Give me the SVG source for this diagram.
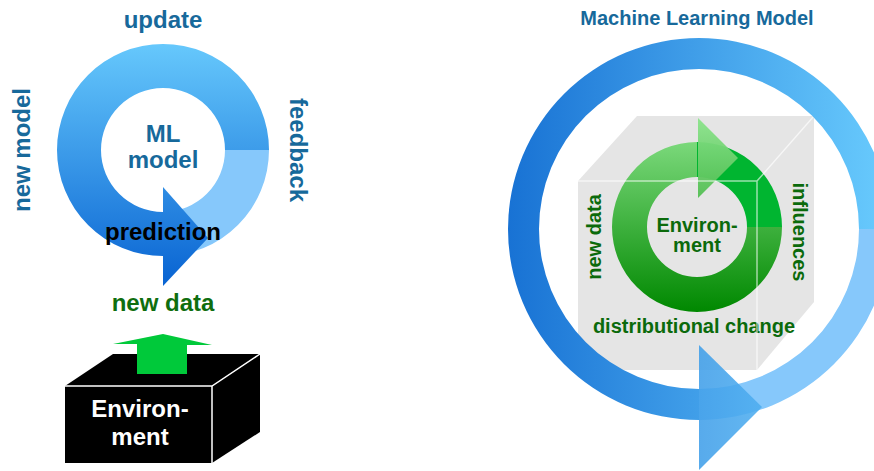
<svg xmlns="http://www.w3.org/2000/svg" width="874" height="471" viewBox="0 0 874 471">
<defs>
<linearGradient id="gLeft" gradientUnits="userSpaceOnUse" x1="0" y1="44" x2="0" y2="286">
<stop offset="0" stop-color="#66c8fc"/><stop offset="1" stop-color="#0863d2"/>
</linearGradient>
<linearGradient id="gBig" gradientUnits="userSpaceOnUse" x1="508" y1="0" x2="874" y2="0">
<stop offset="0" stop-color="#1872d4"/><stop offset="1" stop-color="#66c8fc"/>
</linearGradient>
<linearGradient id="gGreen" gradientUnits="userSpaceOnUse" x1="0" y1="118" x2="0" y2="312">
<stop offset="0" stop-color="#8ce48c"/><stop offset="1" stop-color="#008800"/>
</linearGradient>
<style>
text{font-family:"Liberation Sans",Arial,sans-serif;font-weight:bold;text-anchor:middle}
.blue{fill:#17699b}
.lg{font-size:24px}
.sm{font-size:20px}
.dg{fill:#0f6e0f}
.cg{fill:#0b6a0b}
.edge{stroke:#ffffff;stroke-width:1.5;fill:none}
</style>
</defs>

<g id="ml-cycle">
<path d="M269,150 A106,106 0 0 1 163,256 L163,212 A62,62 0 0 0 225,150 Z" fill="#86c8fb"/>
<path d="M163,256 A106,106 0 1 1 269,150 L225,150 A62,62 0 1 0 163,212 Z" fill="url(#gLeft)"/>
<polygon points="163,187 208,238 163,286" fill="url(#gLeft)"/>
<text class="blue lg" x="163" y="28">update</text>
<text class="blue lg" transform="translate(30,150) rotate(-90)">new model</text>
<text class="blue lg" transform="translate(290,150) rotate(90)">feedback</text>
<text class="blue lg" x="163" y="142">ML</text>
<text class="blue lg" x="163" y="168">model</text>
<text class="lg" x="163" y="240" fill="#000">prediction</text>
</g>

<g id="new-data-left">
<text class="lg dg" x="163" y="311">new data</text>
</g>

<g id="environment-box">
<polygon points="65,386 113,354 260,354 212,386" fill="#000"/>
<polygon points="212,386 260,354 260,432 212,463" fill="#000"/>
<rect x="65" y="386" width="147" height="77" fill="#000"/>
<path class="edge" d="M65,386 L212,386 L260,354 M212,386 L212,463" stroke-width="1"/>
<text class="lg" x="140" y="417" fill="#fff">Environ-</text>
<text class="lg" x="140" y="445" fill="#fff">ment</text>
</g>

<g id="connectors">
<polygon points="113,344 163,334 212,345 187,345 187,374 137,374 137,344" fill="#00c93a"/>
</g>

<g id="cube">
<polygon points="578,181 637,116 814,116 757,181" fill="#e5e5e5"/>
<polygon points="757,181 814,116 814,302 757,370" fill="#e5e5e5"/>
<rect x="578" y="181" width="179" height="189" fill="#e5e5e5"/>
</g>

<g id="env-cycle">
<path d="M697,142 A85,85 0 0 1 782,227 L747,227 A50,50 0 0 0 697,177 Z" fill="#00b530"/>
<path d="M782,227 A85,85 0 1 1 697,142 L697,177 A50,50 0 1 0 747,227 Z" fill="url(#gGreen)"/>
<polygon points="698,118 738,158 698,198" fill="url(#gGreen)" opacity="0.95"/>
<text class="sm cg" x="697" y="232">Environ-</text>
<text class="sm cg" x="697" y="252">ment</text>
<text class="sm cg" transform="translate(601,237) rotate(-90)">new data</text>
<text class="sm cg" transform="translate(793,232) rotate(90)">influences</text>
<text class="sm cg" x="694" y="333">distributional change</text>
<path class="edge" d="M578,181 L757,181 L814,116 M757,181 L757,370" opacity="0.6"/>
</g>

<g id="model-cycle">
<path d="M890,229 A191,191 0 0 1 699,420 L699,389 A160,160 0 0 0 859,229 Z" fill="#86c8fb"/>
<path d="M699,420 A191,191 0 1 1 890,229 L859,229 A160,160 0 1 0 699,389 Z" fill="url(#gBig)"/>
<polygon points="699,345 762,407 699,470" fill="url(#gBig)" opacity="0.88"/>
<text class="blue sm" x="697" y="25">Machine Learning Model</text>
</g>
</svg>
